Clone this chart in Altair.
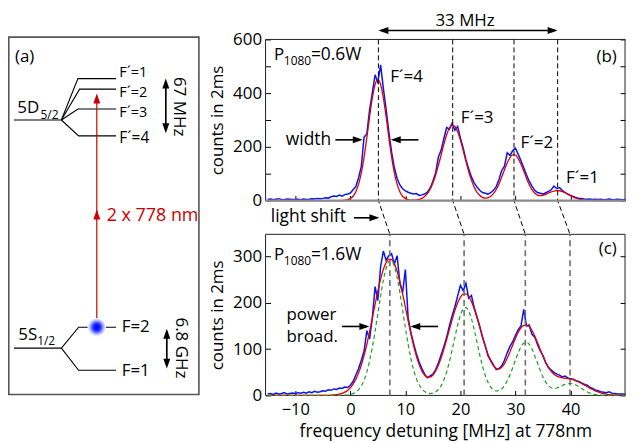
import altair as alt
import pandas as pd

FONT = "Open Sans"

# ---------------- data ----------------
FREQ = [round(-15 + 0.5 * i, 1) for i in range(131)]  # MHz grid, -15 ... 50

BLUE_B = [
    4, 6, 3, 5, 7, 4, 3, 6, 5, 4,
    4, 5, 3, 6, 4, 5, 7, 6, 8, 7,
    8, 10, 9, 14, 17, 15, 20, 16, 22, 24,
    28, 40, 52, 85, 128, 236, 248, 338, 402, 468,
    440, 505, 418, 340, 255, 180, 122, 82, 58, 44,
    36, 31, 27, 24, 26, 19, 21, 24, 31, 46,
    72, 104, 162, 188, 232, 272, 266, 288, 262, 276,
    232, 196, 152, 118, 88, 66, 50, 38, 30, 27,
    24, 29, 38, 52, 78, 112, 128, 178, 168, 186,
    195, 172, 148, 122, 96, 72, 54, 38, 30, 27,
    24, 29, 34, 40, 54, 44, 48, 38, 30, 24,
    19, 15, 11, 8, 8, 6, 5, 6, 4, 5,
    4, 5, 3, 4, 6, 4, 3, 5, 4, 3,
    4,
]
RED_B = [
    0, 0, 0, 0, 0, 0, 0, 0, 0, 0,
    0, 0, 0, 0, 0, 0, 0, 0, 0, 0,
    0, 0, 0, 0, 0, 0, 0, 0, 1, 3,
    8, 16, 33, 61, 103, 162, 234, 312, 382, 432,
    450, 432, 382, 312, 234, 162, 103, 61, 33, 16,
    8, 3, 1, 1, 2, 4, 8, 15, 26, 42,
    65, 95, 131, 170, 210, 245, 270, 280, 276, 256,
    225, 187, 146, 108, 76, 50, 31, 20, 12, 9,
    11, 16, 26, 41, 62, 88, 115, 140, 160, 170,
    169, 156, 135, 110, 83, 59, 41, 28, 20, 18,
    19.5, 23, 28, 32, 35, 37, 36.4, 33, 29, 24,
    18, 13, 9, 5.5, 3.3, 1.8, 1, 0.5, 0, 0,
    0, 0, 0, 0, 0, 0, 0, 0, 0, 0,
    0,
]
BLUE_C = [
    3, 4, 2, 5, 3, 4, 6, 3, 4, 5,
    4, 6, 5, 7, 5, 8, 6, 9, 7, 8,
    10, 9, 12, 11, 14, 13, 16, 15, 18, 17,
    22, 30, 44, 58, 76, 96, 140, 122, 168, 235,
    205, 278, 312, 292, 302, 306, 284, 302, 242, 222,
    272, 168, 136, 112, 90, 72, 58, 46, 38, 42,
    46, 56, 70, 88, 106, 126, 150, 172, 192, 215,
    238, 226, 242, 210, 216, 190, 170, 150, 126, 108,
    86, 76, 66, 56, 58, 64, 76, 92, 106, 116,
    130, 142, 150, 186, 150, 152, 132, 126, 110, 96,
    86, 70, 60, 55, 50, 46, 44, 40, 42, 38,
    36, 35, 32, 30, 27, 24, 22, 18, 15, 12,
    10, 8, 7, 6, 8, 5, 4, 3, 3, 3,
    2,
]
RED_C = [
    0, 0, 0, 0, 0, 0, 0, 0, 0, 0,
    0, 0, 0, 0, 0, 0, 0, 0, 0, 0,
    0, 0, 0.2, 0.5, 0.9, 1.6, 2.7, 4.4, 7.1, 10.9,
    16.5, 24.5, 34.8, 48.7, 65.8, 86.4, 110.6, 137.8, 167, 196.8,
    225.4, 251.3, 272.3, 287, 294.4, 293.5, 284.7, 268.5, 246.3, 219.8,
    190.9, 161.7, 133.3, 107.4, 85, 66.8, 52.9, 43.9, 39.3, 39.5,
    43.9, 52.7, 65.2, 81.2, 100, 120.9, 142.8, 163.9, 183.7, 200.2,
    212.3, 218.9, 219.6, 214.1, 203.1, 187.4, 168.8, 148.1, 126.8, 106.6,
    88.9, 74.5, 64.2, 58.5, 57.3, 61, 68.8, 80.2, 94.1, 109.1,
    123.8, 136.5, 146.2, 151.1, 151.5, 148.8, 140.3, 128.3, 114.2, 99.4,
    84.9, 71.6, 60.5, 52, 45.7, 41.7, 39.3, 37.9, 37.1, 36.4,
    35.4, 34, 31.4, 29, 26, 22.7, 19.2, 15.9, 12.8, 10,
    7.6, 5.6, 4, 2.8, 1.9, 1.3, 0.8, 0.5, 0.3, 0.2,
    0.1,
]
GREEN_C = [
    0, 0, 0, 0, 0, 0, 0, 0, 0, 0,
    0, 0, 0, 0, 0, 0, 0, 0, 0, 0,
    0, 0, 0, 0, 0, 0, 0, 0, 0.5, 1,
    2, 3.9, 7, 12.4, 20.8, 33.2, 51, 74.6, 104.2, 138.9,
    176.8, 214.7, 248.8, 274.8, 289.5, 291, 278.7, 254.6, 221.9, 184.5,
    146.3, 110.7, 80, 55.2, 36.4, 22.9, 14, 8.4, 5.3, 4.1,
    4.9, 7.6, 12.8, 21.2, 33.9, 51.2, 73.2, 98.9, 126.2, 152.2,
    173.3, 186.6, 189.8, 182.4, 165.7, 142.1, 115.3, 88.3, 63.9, 43.7,
    28.7, 18.4, 12.2, 9.6, 10.4, 14.2, 21.1, 31.5, 44.3, 59.8,
    76.4, 92.1, 104.9, 112.9, 114.9, 110.4, 100.3, 86, 69.8, 54.2,
    39.9, 28.8, 21, 16.5, 15.1, 16, 18.3, 21.2, 23.9, 25.5,
    26, 24.9, 22.4, 18.9, 15, 11.2, 7.8, 5.1, 3.2, 1.8,
    1, 0.5, 0.25, 0, 0, 0, 0, 0, 0, 0,
    0,
]

PEAK_B = [5.10, 18.60, 29.73, 37.66]   # line centres at P=0.6W
PEAK_C = [7.18, 20.67, 31.79, 39.91]   # line centres at P=1.6W

X_TICKS = [-10, 0, 10, 20, 30, 40]
Y_TICKS_B = [0, 100, 200, 300, 400, 500, 600]
Y_TICKS_C = [0, 100, 200, 300]
X_DOMAIN = [-15.4, 49.9]
YB_DOMAIN = [0, 600]
YC_DOMAIN = [0, 348]

# annotation texts  (text, f, v, fontsize)
TEXT_B_LEFT = [
    ("P", -13.85, 522, 17), ("1080", -12.08, 506, 12), ("=0.6W", -7.16, 522, 17.5),
    ("F´=4", 7.23, 442, 17), ("F´=3", 20.07, 287, 17), ("F´=2", 30.9, 195, 17),
    ("F´=1", 39.2, 65, 17), ("width", -11.72, 205, 17.5), ("light shift", -14.44, -79, 17.5),
]
TEXT_B_RIGHT = [("(b)", 48.4, 515, 17)]
TEXT_B_CENTER = [("33 MHz", 20.85, 649, 17)]
TEXT_C_LEFT = [
    ("P", -13.85, 292, 17), ("1080", -12.08, 281.5, 12), ("=1.6W", -7.16, 292, 17.5),
    ("power", -11.6, 163, 17), ("broad.", -11.6, 116.5, 17),
]
TEXT_C_RIGHT = [("(c)", 48.4, 304.5, 17)]

# arrows: shafts (f, f2, v) and heads (f, v, direction)
SHAFT_B = [(5.6, 37.2, 633), (-2.72, 1.8, 226), (12.38, 7.8, 226), (0.66, 4.8, -64.4)]
HEAD_B = [(5.10, 633, "left"), (37.66, 633, "right"), (2.26, 226, "right"),
          (7.35, 226, "left"), (5.28, -64.4, "right")]
SHAFT_C = [(-1.53, 3.0, 149), (15.93, 11.4, 149)]
HEAD_C = [(3.45, 149, "right"), (10.9, 149, "left")]

# level diagram (a), in diagram units (pixels of the original figure)
A_BOX = [(8.8, 35, 200, 394.3)]
A_LEVELS = {
    "5D": [(14, 118.3), (61.7, 118.3)],
    "F1": [(61.7, 118.3), (78.3, 76.7), (116.7, 76.7)],
    "F2": [(61.7, 118.3), (80, 87.3), (116.7, 87.3)],
    "F3": [(61.7, 118.3), (78.3, 107.3), (116.7, 107.3)],
    "F4": [(61.7, 118.3), (79, 134.3), (116.7, 134.3)],
    "5S": [(14, 347.7), (61.7, 347.7)],
    "S2": [(61.7, 347.7), (79, 326.7), (116.7, 326.7)],
    "S1": [(61.7, 347.7), (79, 370), (116.7, 370)],
}
A_ARROWS = {"a67": [(166.7, 80), (166.7, 128)], "a68": [(167.7, 331), (167.7, 365)]}
A_RED = [(97.3, 326.7), (97.3, 96)]
A_HEADS = [(166.7, 76.7, "up", "black"), (166.7, 131.7, "down", "black"),
           (167.7, 328.3, "up", "black"), (167.7, 368.3, "down", "black"),
           (97.3, 91.7, "up", "#cc0000"), (97.3, 208.3, "up", "#cc0000")]
A_TEXT = [("(a)", 15, 59.5, 17), ("5D", 17.3, 111.7, 17), ("5/2", 40.7, 117.3, 12),
          ("F´=1", 120, 75.2, 14.5), ("F´=2", 120, 95, 14.5), ("F´=3", 120, 114.8, 14.5),
          ("F´=4", 120, 141.7, 15.5), ("5S", 18.3, 340, 17), ("1/2", 37.3, 345, 12),
          ("F=2", 122.3, 331.7, 17), ("F=1", 122.3, 375.7, 17)]
A_RED_TEXT = [("2 x 778 nm", 107.3, 220, 18)]
A_ROT_TEXT = [("67 MHz", 175, 105, 17), ("6.8 GHz", 176.7, 347.5, 17)]
A_DOT = [(97.3, 326.7)]
A_X_DOMAIN = [8, 200]
A_Y_DOMAIN = [35, 394.3]

# ---------------- layout (pixels) ----------------
P_LEFT = 267.0      # left edge of spectra, in the diagram's pixel units
PW = 361.5          # width of the spectra
B_H, GAP, C_H = 162, 34, 162
TOTAL_H = B_H + GAP + C_H
C_TOP_IN_B = -GAP / (B_H / (YB_DOMAIN[1] - YB_DOMAIN[0]))

HEAD_PATHS = {
    "right": "M0,0L-10,-3.5L-10,3.5Z",
    "left": "M0,0L10,-3.5L10,3.5Z",
    "up": "M0,0L-3.5,10L3.5,10Z",
    "down": "M0,0L-3.5,-10L3.5,-10Z",
}

xs = alt.Scale(domain=X_DOMAIN, nice=False, zero=False)
ys_b = alt.Scale(domain=YB_DOMAIN, range=[B_H, 0], nice=False, zero=False)
ys_c = alt.Scale(domain=YC_DOMAIN, range=[TOTAL_H, B_H + GAP], nice=False, zero=False)
xs_a = alt.Scale(domain=A_X_DOMAIN, range=[A_X_DOMAIN[0] - P_LEFT, A_X_DOMAIN[1] - P_LEFT],
                 nice=False, zero=False)
ys_a = alt.Scale(domain=A_Y_DOMAIN, range=[-2.3, TOTAL_H - 1], nice=False, zero=False)

common_ax = dict(tickSize=5, domain=False, grid=False, tickColor="black",
                 labelFont=FONT, titleFont=FONT, labelFontSize=17, titleFontSize=17,
                 titleFontWeight="normal", labelColor="black", titleColor="black")

x_axis_b = alt.Axis(orient="bottom", values=X_TICKS, labels=False, title=None,
                    offset=-(GAP + C_H) - 5, **common_ax)
x_axis_c = alt.Axis(orient="bottom", values=X_TICKS, title="frequency detuning [MHz] at 778nm", offset=-5,
                    labelPadding=6, titlePadding=4.5,
                    **{**common_ax, "titleFontSize": 17.5, "labelFontSize": 16.5})
y_axis_b = alt.Axis(orient="left", values=Y_TICKS_B, title="counts in 2ms", offset=-5,
                    labelExpr="datum.value % 200 == 0 ? datum.label : ''",
                    labelPadding=4, titlePadding=6, **common_ax)
y_axis_b_r = alt.Axis(orient="right", values=Y_TICKS_B, labels=False, title=None, offset=-5, **common_ax)
y_axis_c = alt.Axis(orient="left", values=Y_TICKS_C, title="counts in 2ms", offset=-5, labelPadding=4,
                    titlePadding=6, **common_ax)
y_axis_c_r = alt.Axis(orient="right", values=Y_TICKS_C, labels=False, title=None, offset=-5, **common_ax)


def series(values):
    return pd.DataFrame({"f": FREQ, "v": values})


def enc_xy(ys, xaxis=None, yaxis=None):
    return dict(x=alt.X("f:Q", scale=xs, axis=xaxis), y=alt.Y("v:Q", scale=ys, axis=yaxis))


def texts(rows, ys, align):
    df = pd.DataFrame(rows, columns=["t", "f", "v", "s"])
    return alt.Chart(df).mark_text(align=align, baseline="alphabetic", font=FONT, color="black").encode(
        text="t:N", size=alt.Size("s:Q", scale=None), **enc_xy(ys))


def arrows(shafts, heads, ys):
    sdf = pd.DataFrame(shafts, columns=["f", "f2", "v"])
    hdf = pd.DataFrame([(f, v, HEAD_PATHS[d]) for f, v, d in heads], columns=["f", "v", "shape"])
    s = alt.Chart(sdf).mark_rule(color="black", strokeWidth=1.6).encode(
        x=alt.X("f:Q", scale=xs, axis=None), x2="f2:Q", y=alt.Y("v:Q", scale=ys, axis=None))
    h = alt.Chart(hdf).mark_point(filled=True, size=4, opacity=1, color="black", strokeWidth=0).encode(
        shape=alt.Shape("shape:N", scale=None), **enc_xy(ys))
    return [s, h]


def frame(ys, ydom):
    df = pd.DataFrame({"f": [X_DOMAIN[0]], "f2": [X_DOMAIN[1]], "v": [ydom[0]], "v2": [ydom[1]]})
    return alt.Chart(df).mark_rect(fillOpacity=0, stroke="#222222", strokeWidth=1).encode(
        x=alt.X("f:Q", scale=xs, axis=None), x2="f2:Q", y=alt.Y("v:Q", scale=ys, axis=None), y2="v2:Q")


# ---------------- panel (b) ----------------
guide_rows = []
for i, (fb, fc) in enumerate(zip(PEAK_B, PEAK_C)):
    guide_rows += [(i, 0, fb, YB_DOMAIN[1]), (i, 1, fb, 0), (i, 2, fc, C_TOP_IN_B)]
guide_df = pd.DataFrame(guide_rows, columns=["p", "o", "f", "v"])

blue_b = alt.Chart(series(BLUE_B)).mark_line(color="#0a14f0", strokeWidth=1.5).encode(
    **enc_xy(ys_b, x_axis_b, y_axis_b))
red_b = alt.Chart(series(RED_B)).mark_line(color="#e00000", strokeWidth=1.3, interpolate="monotone").encode(
    **enc_xy(ys_b, None, y_axis_b_r))
guides_b = alt.Chart(guide_df).mark_line(color="black", strokeWidth=1, strokeDash=[5, 3]).encode(
    detail="p:N", order="o:Q", **enc_xy(ys_b))
base_b = alt.Chart(pd.DataFrame({"f": [X_DOMAIN[0]], "f2": [X_DOMAIN[1]], "v": [0]})).mark_rule(
    color="#8a8a8a", strokeWidth=2.2).encode(
    x=alt.X("f:Q", scale=xs, axis=None), x2="f2:Q", y=alt.Y("v:Q", scale=ys_b, axis=None))

layers_b = [
    frame(ys_b, YB_DOMAIN), blue_b, red_b, guides_b, base_b,
    texts(TEXT_B_LEFT, ys_b, "left"), texts(TEXT_B_RIGHT, ys_b, "right"),
    texts(TEXT_B_CENTER, ys_b, "center"),
    *arrows(SHAFT_B, HEAD_B, ys_b),
]

# ---------------- panel (c) ----------------
blue_c = alt.Chart(series(BLUE_C)).mark_line(color="#0a14f0", strokeWidth=1.5).encode(
    **enc_xy(ys_c, x_axis_c, y_axis_c))
red_c = alt.Chart(series(RED_C)).mark_line(color="#e00000", strokeWidth=1.3, interpolate="monotone").encode(
    **enc_xy(ys_c, None, y_axis_c_r))
green_c = alt.Chart(series(GREEN_C)).mark_line(color="#1f9e1f", strokeWidth=1.2, strokeDash=[4, 3],
                                               interpolate="monotone").encode(**enc_xy(ys_c))
vl_df = pd.DataFrame({"f": PEAK_C, "v": [YC_DOMAIN[0]] * 4, "v2": [YC_DOMAIN[1]] * 4})
vlines_c = alt.Chart(vl_df).mark_rule(color="#6e6e6e", strokeWidth=1.6, strokeDash=[6, 4]).encode(
    x=alt.X("f:Q", scale=xs, axis=None), y=alt.Y("v:Q", scale=ys_c, axis=None), y2="v2:Q")

layers_c = [
    frame(ys_c, YC_DOMAIN), blue_c, red_c, green_c, vlines_c,
    texts(TEXT_C_LEFT, ys_c, "left"), texts(TEXT_C_RIGHT, ys_c, "right"),
    *arrows(SHAFT_C, HEAD_C, ys_c),
]


# ---------------- panel (a) ----------------
def enc_a():
    return dict(x=alt.X("px:Q", scale=xs_a, axis=None), y=alt.Y("py:Q", scale=ys_a, axis=None))


box_df = pd.DataFrame(A_BOX, columns=["px", "py", "px2", "py2"])
box = alt.Chart(box_df).mark_rect(fillOpacity=0, stroke="#555555", strokeWidth=1.6).encode(
    x2="px2:Q", y2="py2:Q", **enc_a())

lev_rows = [(k, i, x, y) for k, pts in A_LEVELS.items() for i, (x, y) in enumerate(pts)]
levels = alt.Chart(pd.DataFrame(lev_rows, columns=["id", "o", "px", "py"])).mark_line(
    color="black", strokeWidth=1.1).encode(detail="id:N", order="o:Q", **enc_a())
arr_rows = [(k, i, x, y) for k, pts in A_ARROWS.items() for i, (x, y) in enumerate(pts)]
arrs = alt.Chart(pd.DataFrame(arr_rows, columns=["id", "o", "px", "py"])).mark_line(
    color="black", strokeWidth=1.7).encode(detail="id:N", order="o:Q", **enc_a())
red_df = pd.DataFrame([(i, x, y) for i, (x, y) in enumerate(A_RED)], columns=["o", "px", "py"])
red_line = alt.Chart(red_df).mark_line(color="#cc0000", strokeWidth=1.2).encode(order="o:Q", **enc_a())
head_df = pd.DataFrame([(x, y, HEAD_PATHS[d], c) for x, y, d, c in A_HEADS],
                       columns=["px", "py", "shape", "col"])
heads_a = alt.Chart(head_df).mark_point(filled=True, size=4, opacity=1, strokeWidth=0).encode(
    shape=alt.Shape("shape:N", scale=None), color=alt.Color("col:N", scale=None), **enc_a())

dot_fill = alt.RadialGradient(
    gradient="radial",
    stops=[alt.GradientStop(color="#0000f0", offset=0), alt.GradientStop(color="#1428ff", offset=0.38),
           alt.GradientStop(color="#a8acff", offset=0.72), alt.GradientStop(color="#ffffff", offset=1)],
    x1=0.5, y1=0.5, r1=0, x2=0.5, y2=0.5, r2=0.5)
dot = alt.Chart(pd.DataFrame(A_DOT, columns=["px", "py"])).mark_circle(
    size=340, fill=dot_fill, opacity=1, strokeWidth=0).encode(**enc_a())


def texts_a(rows, color="black", angle=0, align="left"):
    df = pd.DataFrame(rows, columns=["t", "px", "py", "s"])
    return alt.Chart(df).mark_text(align=align, baseline="alphabetic", font=FONT, color=color,
                                   angle=angle).encode(text="t:N", size=alt.Size("s:Q", scale=None), **enc_a())


layers_a = [
    box, levels, red_line, arrs, heads_a, dot,
    texts_a(A_TEXT), texts_a(A_RED_TEXT, color="#cc0000"), texts_a(A_ROT_TEXT, angle=90, align="center"),
]

chart = alt.layer(*layers_a, *layers_b, *layers_c).resolve_scale(
    x="independent", y="independent"
).properties(
    width=PW, height=TOTAL_H, padding={"left": 0, "top": 2.4, "right": 0, "bottom": 0}
).configure(font=FONT).configure_view(stroke=None)

chart.save("out.html", embed_options={"renderer": "svg", "actions": False})
